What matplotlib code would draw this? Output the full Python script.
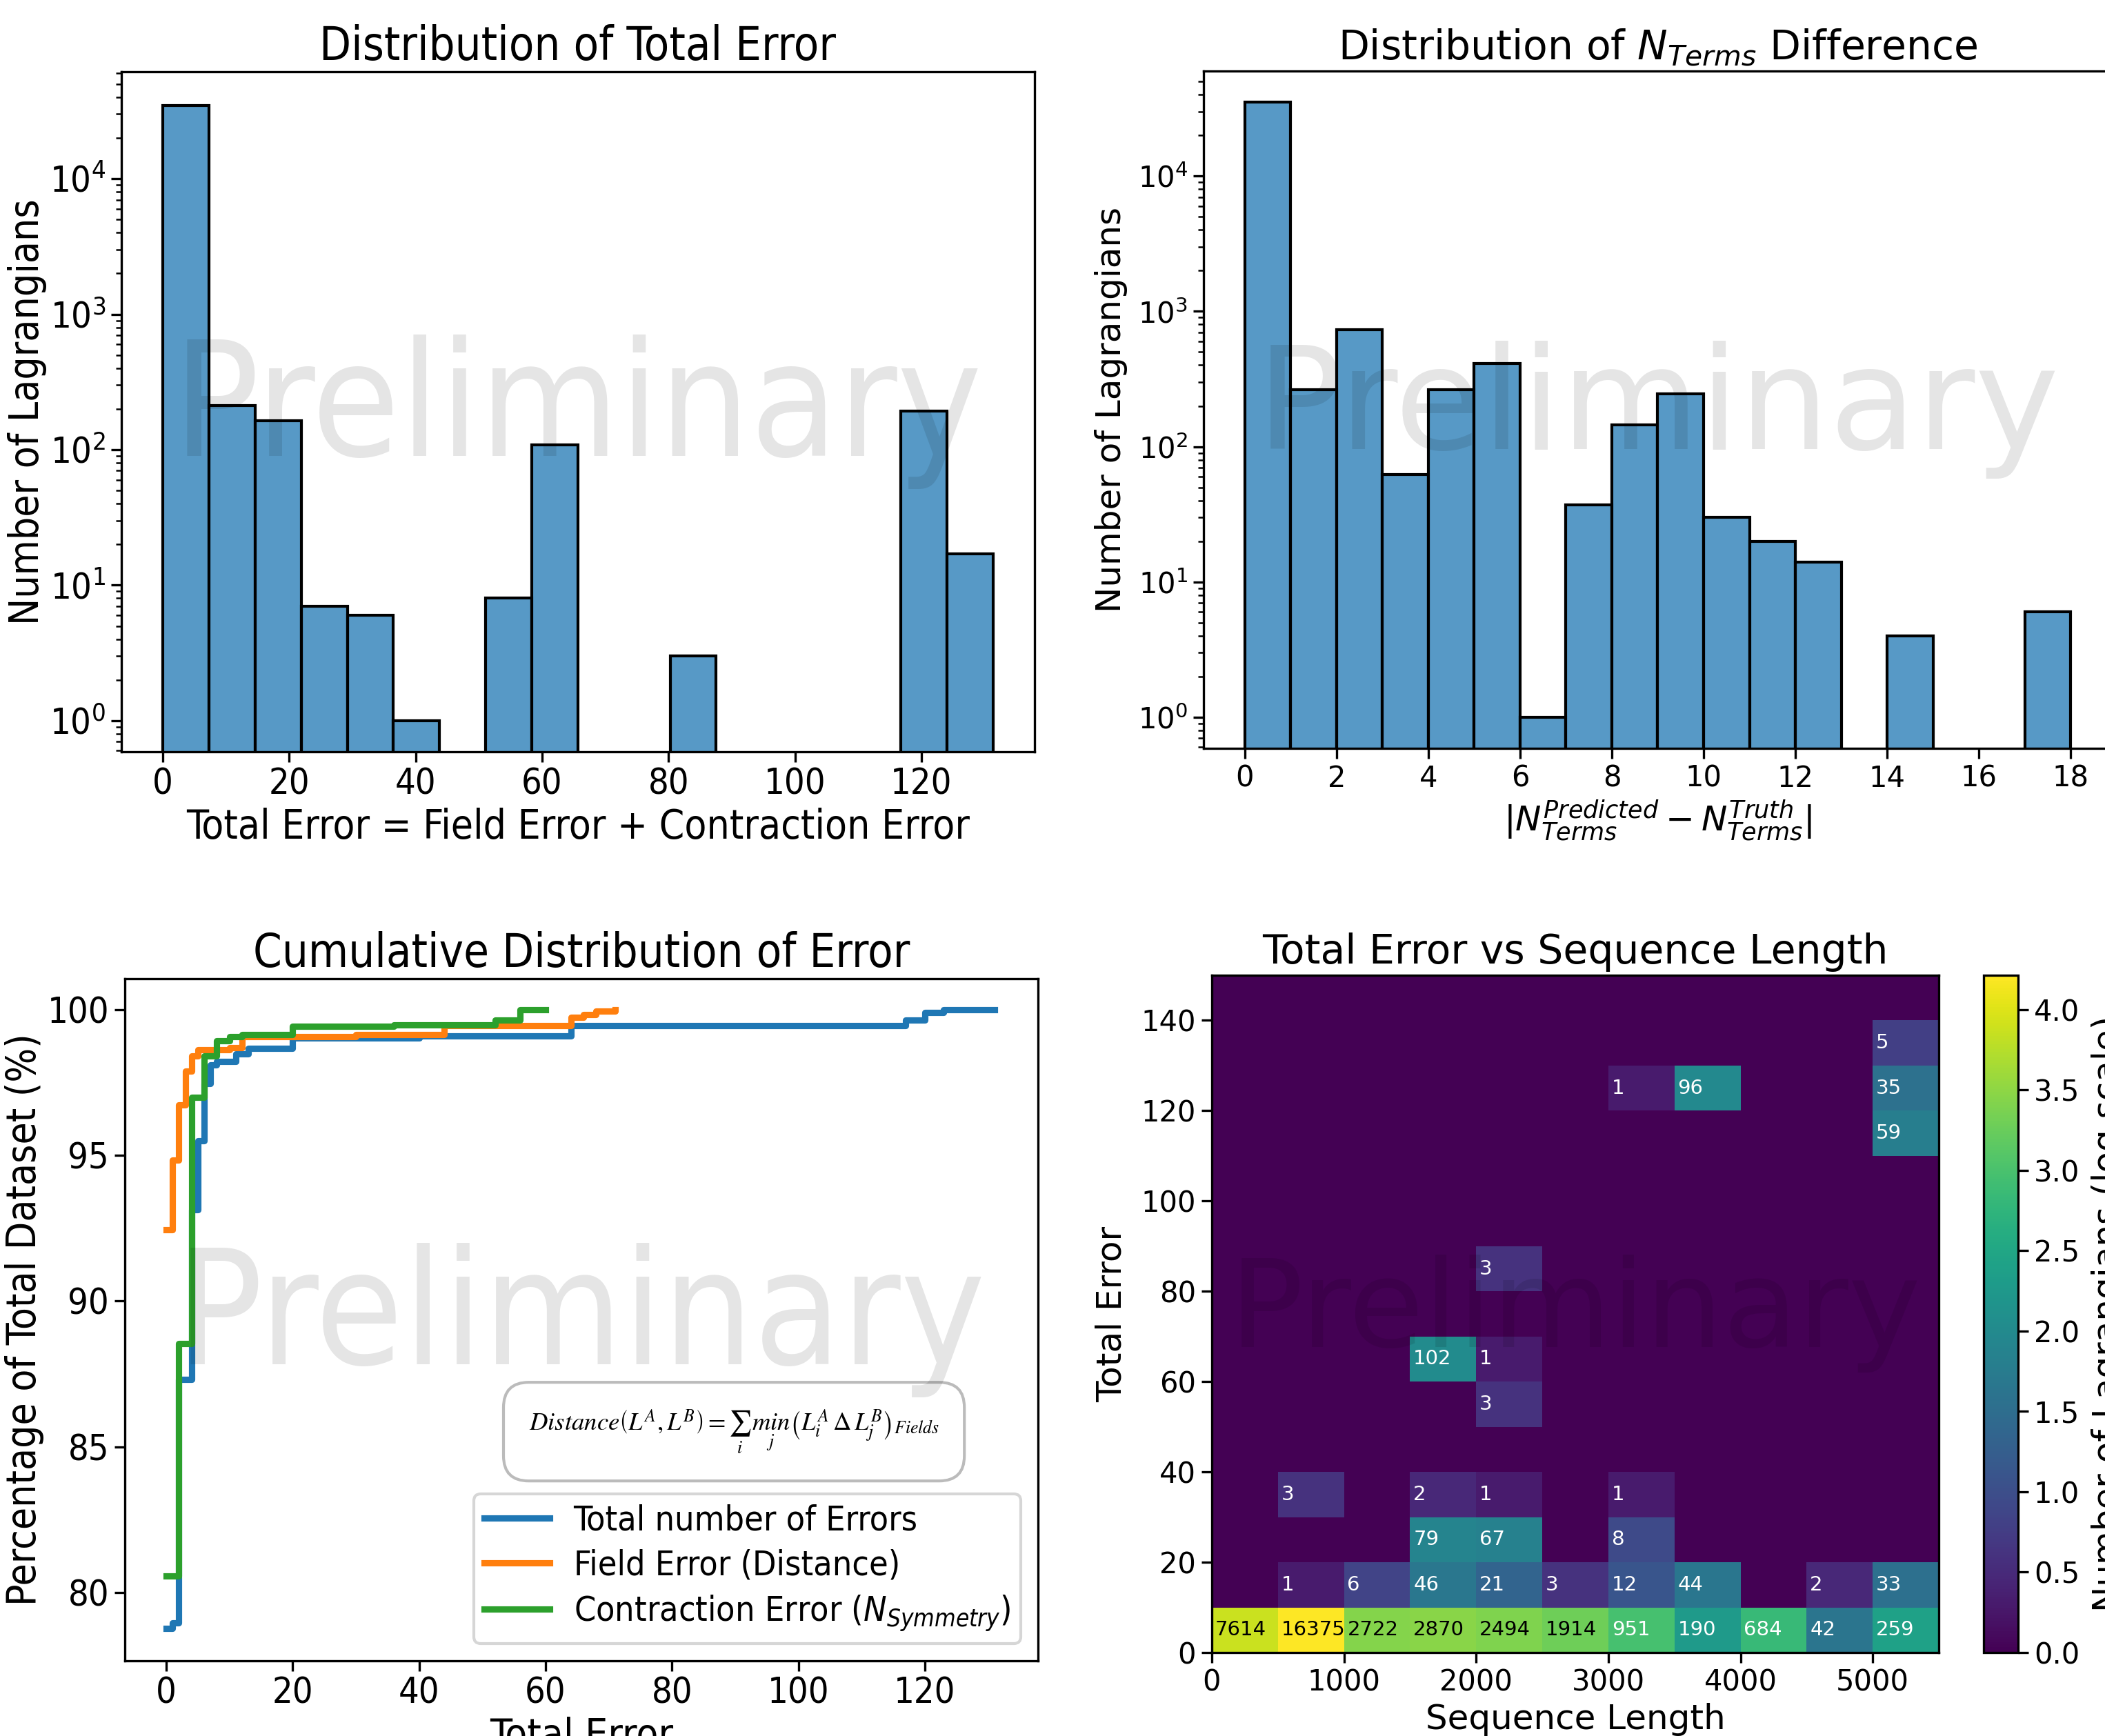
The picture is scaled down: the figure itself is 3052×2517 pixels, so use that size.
import numpy as np
import matplotlib
matplotlib.use("Agg")
import matplotlib.pyplot as plt
from matplotlib.text import Text

W, H, DPI = 3053, 2517, 300

# condensed faces for math in the left column (used through math_fontfamily="custom")
plt.rcParams["mathtext.rm"] = "DejaVu Sans:stretch=condensed"
plt.rcParams["mathtext.sf"] = "DejaVu Sans:stretch=condensed"
plt.rcParams["mathtext.it"] = "DejaVu Sans:style=italic:stretch=condensed"
plt.rcParams["mathtext.bf"] = "DejaVu Sans:weight=bold:stretch=condensed"

# Total error histogram (18 equal bins from 0 to the max error)
total_error_max = 131.3
total_error_counts = [34600, 212, 163, 7, 6, 1, 0, 8, 108, 0, 0, 3, 0, 0, 0, 0, 193, 17]

# |N_terms predicted - N_terms truth| histogram, bins of width 1
nterms_diff_counts = [35000, 265, 730, 62, 265, 410, 1, 37, 144, 245, 30, 20, 14, 0, 4, 0, 0, 6]

# Cumulative distributions (error value, % of dataset at or below it)
total_x = [0, 1, 2, 4, 5, 6, 7, 8, 11, 13, 20, 40, 64, 117, 120, 123, 131]
total_y = [78.77, 78.95, 87.31, 93.13, 95.5, 97.48, 98.1, 98.24, 98.5, 98.68, 99.03, 99.1,
           99.47, 99.65, 99.91, 100.0, 100.0]
field_x = [0, 1, 2, 3, 4, 5, 10, 12, 30, 44, 64, 66, 68, 71]
field_y = [92.46, 94.85, 96.74, 97.89, 98.41, 98.64, 98.71, 99.08, 99.15, 99.47, 99.74,
           99.85, 99.95, 100.0]
contr_x = [0, 2, 4, 6, 8, 10, 12, 20, 36, 52, 56, 60]
contr_y = [80.56, 88.55, 97.0, 98.41, 98.94, 99.07, 99.15, 99.44, 99.49, 99.65, 100.0, 100.0]

# Total error vs sequence length (rows: error bins of 10, cols: length bins of 500)
seq_edges = [0, 500, 1000, 1500, 2000, 2500, 3000, 3500, 4000, 4500, 5000, 5500]
err_edges = [0, 10, 20, 30, 40, 50, 60, 70, 80, 90, 100, 110, 120, 130, 140, 150]
heat_counts = [
    [7614, 16375, 2722, 2870, 2494, 1914, 951, 190, 684, 42, 259],
    [0, 1, 6, 46, 21, 3, 12, 44, 0, 2, 33],
    [0, 0, 0, 79, 67, 0, 8, 0, 0, 0, 0],
    [0, 3, 0, 2, 1, 0, 1, 0, 0, 0, 0],
    [0, 0, 0, 0, 0, 0, 0, 0, 0, 0, 0],
    [0, 0, 0, 0, 3, 0, 0, 0, 0, 0, 0],
    [0, 0, 0, 102, 1, 0, 0, 0, 0, 0, 0],
    [0, 0, 0, 0, 0, 0, 0, 0, 0, 0, 0],
    [0, 0, 0, 0, 3, 0, 0, 0, 0, 0, 0],
    [0, 0, 0, 0, 0, 0, 0, 0, 0, 0, 0],
    [0, 0, 0, 0, 0, 0, 0, 0, 0, 0, 0],
    [0, 0, 0, 0, 0, 0, 0, 0, 0, 0, 59],
    [0, 0, 0, 0, 0, 0, 1, 96, 0, 0, 35],
    [0, 0, 0, 0, 0, 0, 0, 0, 0, 0, 5],
    [0, 0, 0, 0, 0, 0, 0, 0, 0, 0, 0],
]

BAR_FACE = (31 / 255, 119 / 255, 180 / 255, 0.75)


def px_axes(fig, l, t, r, b):
    # place an axes from pixel edges of the final image
    return fig.add_axes([l / W, 1 - b / H, (r - l) / W, (b - t) / H])


def watermark(ax, size):
    ax.text(0.5, 0.5, "Preliminary", transform=ax.transAxes, fontsize=size,
            color="black", alpha=0.1, ha="center", va="center", zorder=10)


fig = plt.figure(figsize=(W / DPI, H / DPI), dpi=DPI)

# ---- top left ----
ax1 = px_axes(fig, 176, 104, 1500, 1090)
edges1 = np.linspace(0, total_error_max, len(total_error_counts) + 1)
ax1.hist(edges1[:-1], bins=edges1, weights=total_error_counts, log=True,
         facecolor=BAR_FACE, edgecolor="black", linewidth=1)
ax1.set_ylim(10 ** -0.23, 10 ** 4.79)
ax1.set_xlim(-6.56, 137.9)
ax1.set_xticks([0, 20, 40, 60, 80, 100, 120])
ax1.set_title("Distribution of Total Error", fontsize=16, pad=4)
ax1.set_xlabel("Total Error = Field Error + Contraction Error", fontsize=14, labelpad=2)
ax1.set_ylabel("Number of Lagrangians", fontsize=14, labelpad=1)
ax1.tick_params(labelsize=12.5, pad=2)
watermark(ax1, 55.5)

# ---- top right ----
ax2 = px_axes(fig, 1745, 103, 3062, 1085)
edges2 = np.arange(len(nterms_diff_counts) + 1)
ax2.hist(edges2[:-1], bins=edges2, weights=nterms_diff_counts, log=True,
         facecolor=BAR_FACE, edgecolor="black", linewidth=1)
ax2.set_ylim(10 ** -0.23, 10 ** 4.776)
ax2.set_xlim(-0.9, 18.9)
ax2.set_xticks(range(0, 19, 2))
ax2.set_title(r"Distribution of $N_{Terms}$ Difference", fontsize=14, pad=4)
ax2.set_xlabel(r"$|N^{Predicted}_{Terms} - N^{Truth}_{Terms}|$", fontsize=12, labelpad=2)
ax2.set_ylabel("Number of Lagrangians", fontsize=12, labelpad=3.5)
ax2.tick_params(labelsize=10, pad=2)
watermark(ax2, 49.5)

# ---- bottom left ----
ax3 = px_axes(fig, 181, 1419, 1505, 2408)
ax3.step(total_x, total_y, where="post", lw=2.2, color="tab:blue", label="Total number of Errors")
ax3.step(field_x, field_y, where="post", lw=2.2, color="tab:orange", label="Field Error (Distance)")
ax3.step(contr_x, contr_y, where="post", lw=2.2, color="tab:green",
         label=r"Contraction Error ($N_{Symmetry}$)")
ax3.set_xlim(-6.56, 137.9)
ax3.set_ylim(77.65, 101.07)
ax3.set_xticks([0, 20, 40, 60, 80, 100, 120])
ax3.set_yticks([80, 85, 90, 95, 100])
ax3.set_title("Cumulative Distribution of Error", fontsize=16, pad=4)
ax3.set_xlabel("Total Error", fontsize=14, labelpad=2)
ax3.set_ylabel("Percentage of Total Dataset (%)", fontsize=14, labelpad=1)
ax3.tick_params(labelsize=12.5, pad=2)
leg = ax3.legend(loc="lower right", fontsize=12, labelspacing=0.34, borderpad=0.3,
                 handlelength=1.9, handletextpad=0.7)
leg.get_texts()[2].set_math_fontfamily("custom")
eq = (r"$Distance\left(L^A,L^B\right)=\sum_i\,\underset{j}{min}"
      r"\left(L_i^A\,\Delta\,L_j^B\right)_{Fields}$")
eq_text = ax3.text(0.667, 0.336, eq, transform=ax3.transAxes, ha="center", va="center",
                   fontsize=8.8, math_fontfamily="stix",
                   bbox=dict(boxstyle="round,pad=1", facecolor="white", edgecolor="#bbbbbb"))
watermark(ax3, 55.5)

# ---- bottom right ----
ax4 = px_axes(fig, 1757, 1414, 2811, 2396)
cax = px_axes(fig, 2876, 1414, 2926, 2396)
counts = np.array(heat_counts)
logc = np.log10(counts + 1)
mesh = ax4.pcolormesh(seq_edges, err_edges, logc, cmap="viridis", vmin=0, vmax=logc.max())
for i in range(counts.shape[0]):
    for j in range(counts.shape[1]):
        c = counts[i, j]
        if c > 0:
            ax4.text(seq_edges[j] + 25, (err_edges[i] + err_edges[i + 1]) / 2, str(c),
                     fontsize=7, ha="left", va="center",
                     color="black" if logc[i, j] > 3.0 else "white")
ax4.set_xlim(0, 5500)
ax4.set_ylim(0, 150)
ax4.set_yticks(range(0, 141, 20))
ax4.set_title("Total Error vs Sequence Length", fontsize=14, pad=4)
ax4.set_xlabel("Sequence Length", fontsize=12, labelpad=2)
ax4.set_ylabel("Total Error", fontsize=12, labelpad=4.5)
ax4.tick_params(labelsize=10, pad=2)
cb = fig.colorbar(mesh, cax=cax)
cb.set_label("Number of Lagrangians (log scale)", fontsize=12)
cb.ax.tick_params(labelsize=10, pad=2)
watermark(ax4, 42.6)

# left column uses a condensed face
for ax in (ax1, ax3):
    for t in ax.findobj(Text):
        if t is not eq_text:
            t.set_fontstretch("condensed")
    for t in ax.get_xticklabels() + ax.get_yticklabels():
        t.set_fontstretch("condensed")

fig.savefig("out.png", dpi=DPI)
